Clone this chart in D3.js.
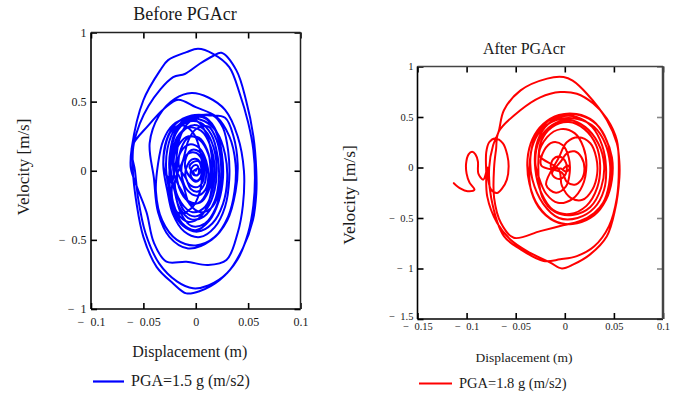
<!DOCTYPE html>
<html><head><meta charset="utf-8">
<script src="https://cdn.jsdelivr.net/npm/d3@7"></script>
<style>
html,body{margin:0;padding:0;background:#fff;}
svg{display:block;}
text{font-family:"Liberation Serif","Times New Roman",serif;fill:#1a1a1a;}
</style>
</head><body>
<svg id="c" width="681" height="395"></svg>
<script>
// ---------- text ----------
const titles = ["Before PGAcr", "After PGAcr"];
const xAxisTitle = "Displacement (m)";
const yAxisTitle = "Velocity [m/s]";
const legendLabels = ["PGA=1.5 g (m/s2)", "PGA=1.8 g (m/s2)"];
const seriesColors = ["#0000ff", "#ff0000"];

// ---------- ticks ----------
const beforeXTicks = [-0.1, -0.05, 0, 0.05, 0.1];
const beforeYTicks = [-1, -0.5, 0, 0.5, 1];
const afterXTicks = [-0.15, -0.1, -0.05, 0, 0.05, 0.1];
const afterYTicks = [-1.5, -1, -0.5, 0, 0.5, 1];

// ---------- data: [displacement (m), velocity (m/s)] ----------
const beforeRise = [
[0.000,0.00],[0.002,0.02],[0.004,0.00],[0.002,-0.03],[-0.002,-0.03],[-0.004,0.00],
[-0.006,0.03],[-0.003,0.06],[0.002,0.07],[0.006,0.04],[0.007,0.00],[0.005,-0.05],[0.000,-0.08],[-0.005,-0.05],
[-0.010,0.02],[-0.009,0.10],[-0.004,0.15],[0.003,0.14],[0.008,0.08],[0.010,-0.01],[0.008,-0.10],[0.002,-0.15],[-0.005,-0.13],[-0.009,-0.06],
[-0.016,0.03],[-0.014,0.16],[-0.007,0.24],[0.003,0.24],[0.011,0.15],[0.014,0.02],[0.012,-0.12],[0.005,-0.22],[-0.005,-0.24],[-0.013,-0.15],
[-0.021,-0.02],[-0.020,0.15],[-0.013,0.28],[-0.002,0.33],[0.009,0.29],[0.017,0.17],[0.020,0.02],[0.018,-0.14],[0.011,-0.27],[0.000,-0.33],[-0.011,-0.29],[-0.018,-0.17],
[-0.025,0.00],[-0.024,0.16],[-0.019,0.29],[-0.010,0.36],[0.001,0.36],[0.010,0.27],[0.015,0.12],[0.016,-0.05],[0.013,-0.21],[0.005,-0.33],[-0.007,-0.37],[-0.018,-0.30],[-0.023,-0.16],
[-0.019,0.05],[-0.016,0.22],[-0.008,0.34],[0.004,0.39],[0.015,0.34],[0.022,0.22],[0.025,0.06],[0.024,-0.12],[0.019,-0.27],[0.009,-0.38],[-0.004,-0.40],[-0.014,-0.31],[-0.020,-0.15],
[-0.024,0.02],[-0.023,0.20],[-0.016,0.33],[-0.004,0.40],[0.010,0.38],[0.020,0.28],[0.025,0.12],[0.026,-0.05],[0.022,-0.22],[0.013,-0.36],[0.000,-0.43],[-0.013,-0.38],[-0.022,-0.22],
[-0.028,-0.02],[-0.027,0.16],[-0.020,0.30],[-0.006,0.38],[0.0165,0.40],[0.026,0.31],[0.031,0.14],[0.032,-0.06],[0.028,-0.26],[0.018,-0.41],[0.004,-0.48],[-0.011,-0.44],[-0.022,-0.31],[-0.027,-0.15],
[-0.031,0.04],[-0.028,0.22],[-0.019,0.34],[-0.004,0.40],[0.014,0.40],[0.028,0.383],[0.036,0.25],[0.040,0.05],[0.038,-0.15],[0.030,-0.36],[0.015,-0.50],[-0.0073,-0.562],[-0.025,-0.48],[-0.036,-0.30],[-0.040,-0.05]
];
const beforePeak = [
[-0.044,0.20],[-0.035,0.40],[-0.020,0.52],[-0.004,0.562],[0.012,0.53],[0.028,0.44],[0.040,0.25],[0.046,0.00],[0.045,-0.25],[0.040,-0.45],[0.0293,-0.646],[0.0118,-0.682],[-0.0089,-0.658],[-0.028,-0.658],[-0.040,-0.52],[-0.047,-0.30],[-0.056,-0.12],[-0.062,0.02],
[-0.061,0.17],[-0.050,0.51],[-0.034,0.726],[-0.0264,0.80],[-0.0089,0.858],[0.0022,0.882],[0.0165,0.846],[0.032,0.75],[0.042,0.557],[0.050,0.35],[0.055,0.15],[0.0565,-0.05],[0.055,-0.25],[0.050,-0.45],[0.040,-0.64],[0.0229,-0.79],[0.004,-0.87],[-0.009,-0.887],[-0.0216,-0.815],[-0.0374,-0.695],[-0.050,-0.478],[-0.0565,-0.237],[-0.060,0.00],
[-0.059,0.20],[-0.045,0.47],[-0.0216,0.677],[-0.0105,0.70],[0.0038,0.774],[0.0165,0.83],[0.0245,0.853],[0.0388,0.726],[0.048,0.51],[0.055,0.25],[0.0578,0.00],[0.0578,-0.165],[0.0546,-0.357],[0.045,-0.56],[0.030,-0.74],[0.012,-0.83],[-0.0026,-0.85],[-0.018,-0.80],[-0.035,-0.67],[-0.048,-0.45],[-0.055,-0.20],[-0.058,0.00],[-0.061,0.17],
[-0.045,0.33],[-0.030,0.45],[-0.0169,0.514],[0.000,0.46],[0.0197,0.39],[0.032,0.25],[0.038,0.05],[0.037,-0.15],[0.031,-0.33],[0.018,-0.48],[0.000,-0.54],[-0.018,-0.50],[-0.032,-0.36],[-0.038,-0.15]
];
const beforeDecay = [
[-0.036,0.05],[-0.031,0.22],[-0.022,0.33],[-0.008,0.38],[0.008,0.36],[0.020,0.28],[0.028,0.12],[0.030,-0.06],[0.026,-0.24],[0.016,-0.38],[0.002,-0.44],[-0.012,-0.40],[-0.022,-0.27],[-0.025,-0.08],
[-0.024,0.12],[-0.019,0.27],[-0.009,0.35],[0.004,0.35],[0.015,0.26],[0.021,0.10],[0.022,-0.07],[0.018,-0.22],[0.008,-0.33],[-0.005,-0.35],[-0.016,-0.26],[-0.022,-0.10],
[-0.030,0.00],[-0.029,0.18],[-0.023,0.29],[-0.013,0.33],[-0.003,0.28],[0.004,0.15],[0.006,0.00],[0.004,-0.15],[-0.004,-0.27],[-0.015,-0.31],[-0.025,-0.22],
[-0.023,0.08],[-0.018,0.24],[-0.008,0.31],[0.005,0.29],[0.014,0.18],[0.018,0.02],[0.016,-0.14],[0.009,-0.26],[-0.003,-0.30],[-0.014,-0.23],[-0.020,-0.09],
[-0.012,0.08],[-0.007,0.22],[0.000,0.30],[0.012,0.32],[0.020,0.22],[0.024,0.06],[0.023,-0.12],[0.016,-0.26],[0.005,-0.30],[-0.006,-0.24],[-0.012,-0.10],
[-0.021,0.06],[-0.016,0.19],[-0.007,0.25],[0.004,0.22],[0.012,0.12],[0.015,-0.02],[0.012,-0.15],[0.004,-0.23],[-0.007,-0.22],[-0.016,-0.12],
[-0.018,0.02],[-0.014,0.14],[-0.006,0.19],[0.004,0.16],[0.010,0.07],[0.012,-0.04],[0.009,-0.14],[0.001,-0.18],[-0.008,-0.14],[-0.013,-0.05],
[-0.013,0.05],[-0.008,0.12],[0.000,0.13],[0.006,0.08],[0.008,-0.01],[0.006,-0.09],[0.000,-0.12],[-0.007,-0.09],[-0.010,-0.02],
[-0.008,0.04],[-0.004,0.08],[0.002,0.08],[0.005,0.03],[0.005,-0.04],[0.002,-0.07],[-0.003,-0.06],[-0.005,-0.02],
[-0.003,0.03],[0.001,0.04],[0.003,0.00],[0.002,-0.03],[-0.001,-0.03],[-0.002,0.00],[0.000,0.01]
];

const afterRise = [
[-0.001,-0.007],[0.003,0.02],[0.005,-0.01],[0.001,-0.04],[-0.004,-0.01],
[-0.014,0.00],[-0.012,0.08],[-0.006,0.11],[0.000,0.07],[0.002,-0.02],[-0.002,-0.10],[-0.008,-0.11],[-0.013,-0.06],
[-0.004,0.06],[0.002,0.14],[0.010,0.16],[0.017,0.10],[0.020,-0.01],[0.017,-0.12],[0.010,-0.17],[0.002,-0.14],[-0.003,-0.05],
[-0.024,0.02],[-0.021,0.17],[-0.012,0.25],[-0.002,0.22],[0.004,0.10],[0.005,-0.05],[0.001,-0.19],[-0.009,-0.25],[-0.019,-0.17],
[-0.006,0.10],[0.002,0.25],[0.014,0.30],[0.026,0.24],[0.032,0.10],[0.033,-0.06],[0.028,-0.22],[0.018,-0.32],[0.006,-0.30],[-0.003,-0.18],[-0.006,-0.02],
[-0.026,0.12],[-0.018,0.30],[-0.004,0.38],[0.010,0.34],[0.019,0.20],[0.022,0.02],[0.018,-0.18],[0.008,-0.31],[-0.007,-0.35],[-0.019,-0.26],[-0.027,-0.08],
[-0.030,0.05],[-0.026,0.27],[-0.013,0.42],[0.004,0.47],[0.021,0.40],[0.034,0.24],[0.040,0.03],[0.037,-0.20],[0.026,-0.39],[0.008,-0.47],[-0.010,-0.44],[-0.023,-0.29],
[-0.027,0.04],[-0.024,0.26],[-0.013,0.40],[0.004,0.45],[0.020,0.38],[0.032,0.22],[0.036,0.02],[0.033,-0.20],[0.022,-0.38],[0.005,-0.46],[-0.012,-0.42],[-0.024,-0.25],
[-0.030,-0.02],[-0.029,0.22],[-0.020,0.40],[-0.005,0.50],[0.012,0.50],[0.028,0.40],[0.038,0.22],[0.042,0.00],[0.040,-0.22],[0.030,-0.40],[0.013,-0.50],[-0.006,-0.50],[-0.022,-0.36],
[-0.033,-0.12],[-0.035,0.10],[-0.030,0.30],[-0.017,0.46],[-0.0047,0.518],[0.0156,0.518],[0.032,0.43],[0.043,0.26],[0.047,0.05],[0.046,-0.17],[0.039,-0.37],[0.026,-0.50],[0.008,-0.56],[-0.012,-0.52],[-0.027,-0.38],
[-0.036,-0.16],[-0.038,0.08],[-0.033,0.28],[-0.022,0.43],[-0.006,0.52],[0.012,0.53],[0.029,0.46],[0.041,0.30],[0.048,0.10],[0.048,-0.12],[0.042,-0.32],[0.030,-0.47],[0.013,-0.55],[-0.006,-0.55],[-0.023,-0.44],
[-0.034,-0.24],[-0.036,0.00],[-0.032,0.24],[-0.021,0.40],[-0.005,0.48],[0.013,0.48],[0.030,0.40],[0.041,0.24],[0.046,0.04],[0.045,-0.17],[0.039,-0.35],[0.030,-0.45],[0.0156,-0.53],[-0.0047,-0.58],[-0.025,-0.63],[-0.052,-0.696],[-0.065,-0.55],[-0.072,-0.30],[-0.072,0.00]
];
const afterBig = [
[-0.070,0.18],[-0.0674,0.353],[-0.0453,0.567],[-0.025,0.695],[-0.0047,0.747],[0.0123,0.73],[0.029,0.633],[0.0428,0.485],[0.053,0.27],[0.055,0.00],[0.053,-0.30],[0.045,-0.58],[0.030,-0.78],[0.0123,-0.877],[-0.0047,-0.909],[-0.0216,-0.926],[-0.045,-0.81],[-0.062,-0.68],[-0.075,-0.30],[-0.077,0.00],[-0.073,0.22],[-0.0675,0.35],[-0.062,0.567],[-0.045,0.764],[-0.018,0.88],[-0.0013,0.895],[0.008,0.86],[0.0225,0.73],[0.0428,0.47],[0.053,0.24],[0.0556,0.05],[0.0556,-0.10],[0.0512,-0.417],[0.0428,-0.68],[0.0258,-0.86],[0.0088,-0.959],[-0.003,-1.00],[-0.0148,-0.942],[-0.0385,-0.828],[-0.0555,-0.713],[-0.069,-0.548],[-0.079,-0.286],[-0.080,-0.05]
];
const afterDrift = [
[-0.080,0.15],[-0.077,0.25],[-0.0711,0.288],[-0.063,0.24],[-0.0585,0.12],[-0.0572,0.01],[-0.059,-0.12],[-0.064,-0.21],[-0.069,-0.253],[-0.075,-0.22],[-0.078,-0.12],[-0.0785,0.00],
[-0.083,-0.12],[-0.088,-0.06],[-0.0885,0.06],[-0.091,0.13],[-0.0944,0.156],[-0.098,0.13],[-0.1005,0.04],[-0.100,-0.06],[-0.097,-0.15],[-0.092,-0.22],[-0.099,-0.235],[-0.106,-0.21],[-0.113,-0.155]
];

const beforePath = beforeRise.concat(beforePeak, beforeDecay);
const afterPath = afterRise.concat(afterBig, afterDrift);

// ---------- drawing ----------
const svg = d3.select("#c");
const tickFmt = d => d < 0 ? "\u2212\u2002" + d3.format("~g")(-d) : d3.format("~g")(d);

const panels = [
  { data: beforePath, color: seriesColors[0], xDomain:[-0.1,0.1], yDomain:[-1,1], xTicks: beforeXTicks, yTicks: beforeYTicks,
    left:91, right:300.5, top:32.5, bottom:309, tickFont:12, xPad:8.5, yPad:4.5, minYShift:0,
    title: titles[0], titleX:185, titleY:20, titleFont:18,
    xl:{x:189.7, y:357, f:16}, yl:{x:28.5, y:167, f:17},
    leg:{x1:93, x2:124, y:381.5, tx:131, ty:386, f:16, label: legendLabels[0]},
    frame:{left:"#000", bottom:"#000", top:"#222", right:"#222", rw:1.5, tickRight:"#000"} },
  { data: afterPath, color: seriesColors[1], xDomain:[-0.15,0.1], yDomain:[-1.5,1], xTicks: afterXTicks, yTicks: afterYTicks,
    left:417.5, right:663, top:66.5, bottom:319, tickFont:10.5, xPad:4, yPad:4, minYShift:-3,
    title: titles[1], titleX:524, titleY:54, titleFont:16,
    xl:{x:524, y:361.5, f:13.5}, yl:{x:354.5, y:195, f:17.5},
    leg:{x1:419, x2:452, y:383.5, tx:459, ty:388, f:14.5, label: legendLabels[1]},
    frame:{left:"#000", bottom:"#000", top:"#444", right:"#444", rw:2.5, tickRight:"#888"} }
];

panels.forEach(p => {
  const g = svg.append("g");
  const x = d3.scaleLinear().domain(p.xDomain).range([p.left, p.right]);
  const y = d3.scaleLinear().domain(p.yDomain).range([p.bottom, p.top]);

  const line = d3.line().x(d => x(d[0])).y(d => y(d[1])).curve(d3.curveCatmullRom.alpha(0.5));
  g.append("path").datum(p.data).attr("d", line)
    .attr("fill","none").attr("stroke", p.color).attr("stroke-width", 2)
    .attr("stroke-linejoin","round").attr("stroke-linecap","round");

  const styleAxis = (sel, col) => {
    sel.select(".domain").remove();
    sel.selectAll(".tick line").attr("stroke", col || "#000").attr("stroke-width", 1.6);
    sel.selectAll(".tick text").attr("font-size", p.tickFont).attr("fill","#1a1a1a");
    sel.attr("font-family", null).attr("font-size", null);
  };

  const ax = d3.axisBottom(x).tickValues(p.xTicks).tickSize(-6).tickPadding(p.xPad).tickFormat(tickFmt);
  g.append("g").attr("transform", `translate(0,${p.bottom})`).call(ax).call(s => styleAxis(s));
  const ay = d3.axisLeft(y).tickValues(p.yTicks).tickSize(-6).tickPadding(p.yPad).tickFormat(tickFmt);
  const gy = g.append("g").attr("transform", `translate(${p.left},0)`).call(ay).call(s => styleAxis(s));
  gy.selectAll(".tick").filter(d => d === p.yTicks[0]).select("text").attr("y", p.minYShift);
  const axT = d3.axisTop(x).tickValues(p.xTicks).tickSize(-6).tickFormat("");
  g.append("g").attr("transform", `translate(0,${p.top})`).call(axT).call(s => styleAxis(s));
  const ayR = d3.axisRight(y).tickValues(p.yTicks).tickSize(-6).tickFormat("");
  g.append("g").attr("transform", `translate(${p.right},0)`).call(ayR).call(s => styleAxis(s, p.frame.tickRight));

  // frame
  g.append("line").attr("x1",p.left).attr("x2",p.left).attr("y1",p.top).attr("y2",p.bottom).attr("stroke",p.frame.left).attr("stroke-width",1.6);
  g.append("line").attr("x1",p.left).attr("x2",p.right).attr("y1",p.bottom).attr("y2",p.bottom).attr("stroke",p.frame.bottom).attr("stroke-width",1.6);
  g.append("line").attr("x1",p.left).attr("x2",p.right).attr("y1",p.top).attr("y2",p.top).attr("stroke",p.frame.top).attr("stroke-width",1.3);
  g.append("line").attr("x1",p.right).attr("x2",p.right).attr("y1",p.top).attr("y2",p.bottom).attr("stroke",p.frame.right).attr("stroke-width",p.frame.rw);

  // titles and labels
  g.append("text").attr("x",p.titleX).attr("y",p.titleY).attr("text-anchor","middle").attr("font-size",p.titleFont).text(p.title);
  g.append("text").attr("x",p.xl.x).attr("y",p.xl.y).attr("text-anchor","middle").attr("font-size",p.xl.f).text(xAxisTitle);
  g.append("text").attr("transform",`translate(${p.yl.x},${p.yl.y}) rotate(-90)`).attr("text-anchor","middle").attr("font-size",p.yl.f).text(yAxisTitle);

  // legend
  g.append("line").attr("x1",p.leg.x1).attr("x2",p.leg.x2).attr("y1",p.leg.y).attr("y2",p.leg.y).attr("stroke",p.color).attr("stroke-width",2.2);
  g.append("text").attr("x",p.leg.tx).attr("y",p.leg.ty).attr("font-size",p.leg.f).text(p.leg.label);
});
</script>
</body></html>
